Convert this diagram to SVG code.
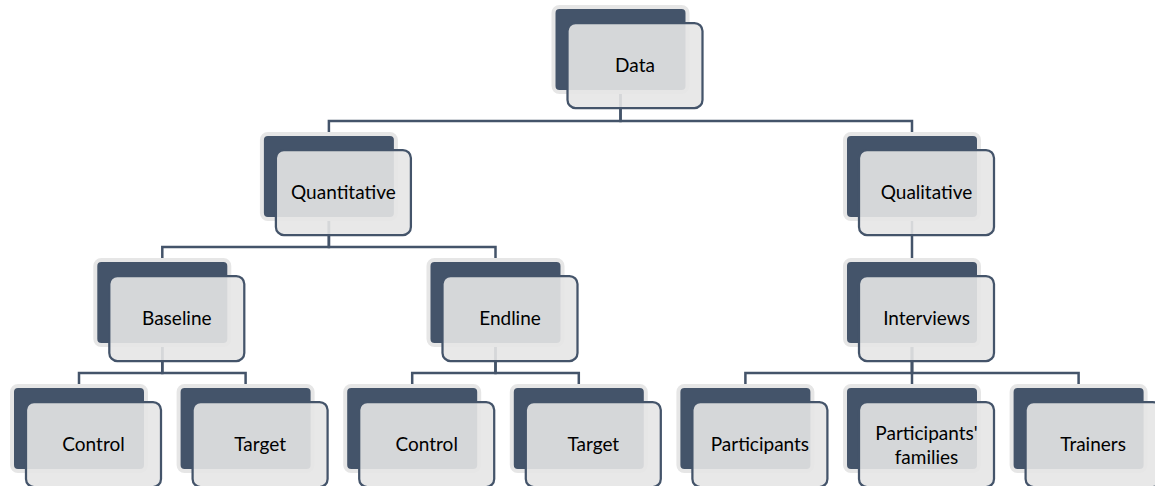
<svg xmlns="http://www.w3.org/2000/svg" width="1155" height="486" viewBox="0 0 1155 486">
  <style>
    .back { fill: #44546A; stroke: #E6E6E6; stroke-width: 4; }
    .front { fill: #E6E6E6; fill-opacity: 0.9; stroke: #44546A; stroke-width: 2.25; }
    .lbl { font-family: Lato, "Liberation Sans", sans-serif; font-size: 19px; fill: #000; text-anchor: middle; }
    .conn { fill: none; stroke: #44546A; stroke-width: 2.5; }
  </style>
  <defs>
    <!-- one node: dark back card plus translucent front card, origin at the back card's centre-top -->
    <g id="card">
      <rect class="back" x="-67" y="0" width="134" height="85" rx="6"/>
      <rect class="front" x="-53" y="16" width="135" height="85" rx="8"/>
    </g>
  </defs>

  <g id="connectors">
    <!-- Data -> level 1 -->
    <path class="conn" d="M620.5,92 V121 H328.9 V134"/>
    <path class="conn" d="M620.5,92 V121 H912 V134"/>
    <!-- Quantitative -> Baseline / Endline -->
    <path class="conn" d="M328.9,219 V247 H162.3 V260"/>
    <path class="conn" d="M328.9,219 V247 H495.5 V260"/>
    <!-- Qualitative -> Interviews -->
    <path class="conn" d="M912,219 V260"/>
    <!-- Baseline -> Control / Target -->
    <path class="conn" d="M162.3,345 V373 H79 V386"/>
    <path class="conn" d="M162.3,345 V373 H245.6 V386"/>
    <!-- Endline -> Control / Target -->
    <path class="conn" d="M495.5,345 V373 H412.2 V386"/>
    <path class="conn" d="M495.5,345 V373 H578.8 V386"/>
    <!-- Interviews -> Participants / families / Trainers -->
    <path class="conn" d="M912,345 V373 H745.4 V386"/>
    <path class="conn" d="M912,345 V386"/>
    <path class="conn" d="M912,345 V373 H1078.6 V386"/>
  </g>

  <g id="node-data" transform="translate(620.5,7)">
    <use href="#card"/>
    <text class="lbl" x="14.5" y="64.5">Data</text>
  </g>
  <g id="node-quantitative" transform="translate(328.9,134)">
    <use href="#card"/>
    <text class="lbl" x="14.5" y="64.5">Quantitative</text>
  </g>
  <g id="node-qualitative" transform="translate(912,134)">
    <use href="#card"/>
    <text class="lbl" x="14.5" y="64.5">Qualitative</text>
  </g>
  <g id="node-baseline" transform="translate(162.3,260)">
    <use href="#card"/>
    <text class="lbl" x="14.5" y="64.5">Baseline</text>
  </g>
  <g id="node-endline" transform="translate(495.5,260)">
    <use href="#card"/>
    <text class="lbl" x="14.5" y="64.5">Endline</text>
  </g>
  <g id="node-interviews" transform="translate(912,260)">
    <use href="#card"/>
    <text class="lbl" x="14.5" y="64.5">Interviews</text>
  </g>
  <g id="node-baseline-control" transform="translate(79,386)">
    <use href="#card"/>
    <text class="lbl" x="14.5" y="64.5">Control</text>
  </g>
  <g id="node-baseline-target" transform="translate(245.6,386)">
    <use href="#card"/>
    <text class="lbl" x="14.5" y="64.5">Target</text>
  </g>
  <g id="node-endline-control" transform="translate(412.2,386)">
    <use href="#card"/>
    <text class="lbl" x="14.5" y="64.5">Control</text>
  </g>
  <g id="node-endline-target" transform="translate(578.8,386)">
    <use href="#card"/>
    <text class="lbl" x="14.5" y="64.5">Target</text>
  </g>
  <g id="node-participants" transform="translate(745.4,386)">
    <use href="#card"/>
    <text class="lbl" x="14.5" y="64.5">Participants</text>
  </g>
  <g id="node-families" transform="translate(912,386)">
    <use href="#card"/>
    <text class="lbl" x="14.5" y="54">Participants'</text>
    <text class="lbl" x="14.5" y="77.5">families</text>
  </g>
  <g id="node-trainers" transform="translate(1078.6,386)">
    <use href="#card"/>
    <text class="lbl" x="14.5" y="64.5">Trainers</text>
  </g>
</svg>
